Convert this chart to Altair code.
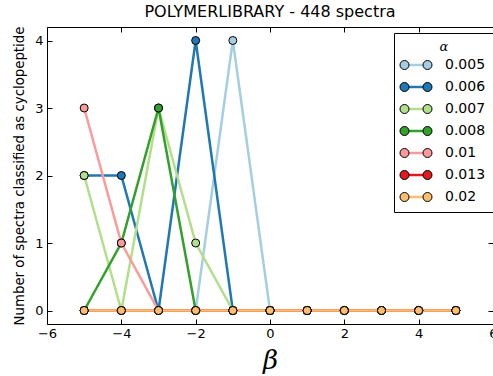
import altair as alt
import pandas as pd

beta = [-5, -4, -3, -2, -1, 0, 1, 2, 3, 4, 5]
alphas = ["0.005", "0.006", "0.007", "0.008", "0.01", "0.013", "0.02"]
colors = ["#a6cee3", "#1f78b4", "#b2df8a", "#33a02c", "#fb9a99", "#e31a1c", "#fdbf6f"]
s_0005 = [0, 0, 0, 0, 4, 0, 0, 0, 0, 0, 0]
s_0006 = [2, 2, 0, 4, 0, 0, 0, 0, 0, 0, 0]
s_0007 = [2, 0, 3, 1, 0, 0, 0, 0, 0, 0, 0]
s_0008 = [0, 1, 3, 0, 0, 0, 0, 0, 0, 0, 0]
s_001 = [3, 1, 0, 0, 0, 0, 0, 0, 0, 0, 0]
s_0013 = [0, 0, 0, 0, 0, 0, 0, 0, 0, 0, 0]
s_002 = [0, 0, 0, 0, 0, 0, 0, 0, 0, 0, 0]
series = [s_0005, s_0006, s_0007, s_0008, s_001, s_0013, s_002]
x_ticks = [-6, -4, -2, 0, 2, 4, 6]
y_ticks = [0, 1, 2, 3, 4]

# the line layer uses the same labels with a zero-width space appended, so that
# Vega-Lite keeps two separate (overlaid) legends: line strokes and circle markers
line_keys = [a + "\u200b" for a in alphas]

rows = []
for a, lk, s in zip(alphas, line_keys, series):
    for b, v in zip(beta, s):
        rows.append({"beta": b, "count": v, "alpha_l": lk, "alpha": a})
df = pd.DataFrame(rows)

x_scale = alt.Scale(domain=[-6, 6], nice=False, zero=False)
y_scale = alt.Scale(domain=[-0.2, 4.2], nice=False, zero=False)

minus_expr = "replace(datum.label, '-', '\u2212')"

x_bottom = alt.Axis(orient="bottom", values=x_ticks, offset=-5, tickSize=5, domain=False,
                    grid=False, labelPadding=3, labelFontSize=13, labelExpr=minus_expr,
                    labelColor="black", tickColor="black", labelFlush=False,
                    title="β", titleFont="DejaVu Serif", titleFontStyle="italic",
                    titleFontWeight="normal", titleFontSize=26, titlePadding=7,
                    titleColor="black")
y_left = alt.Axis(orient="left", values=y_ticks, offset=-5, tickSize=5, domain=False,
                  grid=False, labelPadding=4, labelFontSize=13, labelColor="black",
                  tickColor="black", labelFlush=False,
                  title="Number of spectra classified as cyclopeptide",
                  titleFontSize=13.3, titleFontWeight="normal", titlePadding=8,
                  titleColor="black")
x_top = alt.Axis(orient="top", values=x_ticks, offset=-5, tickSize=5, domain=False,
                 grid=False, labels=False, title=None, tickColor="black")
y_right = alt.Axis(orient="right", values=y_ticks, offset=-5, tickSize=5, domain=False,
                   grid=False, labels=False, title=None, tickColor="black")

legend_x = 347
legend_y = 6
common = dict(
    title="α", orient="none", legendX=legend_x, legendY=legend_y, symbolSize=100,
    labelFontSize=14, labelOffset=22,
    titleFont="DejaVu Serif", titleFontStyle="italic", titleFontWeight="normal",
    titleFontSize=13, titleAnchor="middle", titlePadding=4,
    padding=8, rowPadding=8, symbolOffset=7,
)

line_legend = alt.Legend(
    symbolType="M-1.5,0L1.5,0", symbolStrokeWidth=2.5, symbolFillColor="transparent",
    labelColor="black", titleColor="black",
    fillColor="white", strokeColor="black", zindex=1, **common,
)
circle_path = ("M-3.2,0A0.9,0.9 0 1,0 -1.4,0A0.9,0.9 0 1,0 -3.2,0Z"
               "M1.4,0A0.9,0.9 0 1,0 3.2,0A0.9,0.9 0 1,0 1.4,0Z")
point_legend = alt.Legend(
    symbolType=circle_path, symbolStrokeWidth=1, symbolStrokeColor="black", symbolOpacity=1,
    labelColor="transparent", titleColor="transparent",
    fillColor="transparent", strokeColor="transparent", zindex=2, **common,
)

lines = alt.Chart(df).mark_line(strokeWidth=2.5).encode(
    x=alt.X("beta:Q", scale=x_scale, axis=x_bottom),
    y=alt.Y("count:Q", scale=y_scale, axis=y_left),
    stroke=alt.Stroke("alpha_l:N", scale=alt.Scale(domain=line_keys, range=colors), legend=line_legend),
    order=alt.Order("beta:Q"),
)
points = alt.Chart(df).mark_point(filled=True, size=64, stroke="black", strokeWidth=1,
                                  opacity=1, shape="circle").encode(
    x=alt.X("beta:Q", scale=x_scale, axis=x_top),
    y=alt.Y("count:Q", scale=y_scale, axis=y_right),
    fill=alt.Fill("alpha:N", scale=alt.Scale(domain=alphas, range=colors), legend=point_legend),
)

chart = alt.layer(lines, points).resolve_axis(x="independent", y="independent").properties(
    width=446, height=297,
    title=alt.TitleParams("POLYMERLIBRARY - 448 spectra", fontSize=16, fontWeight="normal",
                          offset=6, color="black", frame="group"),
    autosize=alt.AutoSizeParams(type="none"),
    padding={"left": 47, "top": 27, "right": 0, "bottom": 52},
).configure(font="DejaVu Sans").configure_view(stroke="black", strokeWidth=1)

chart.save("out.html", embed_options={"renderer": "svg", "actions": False})
